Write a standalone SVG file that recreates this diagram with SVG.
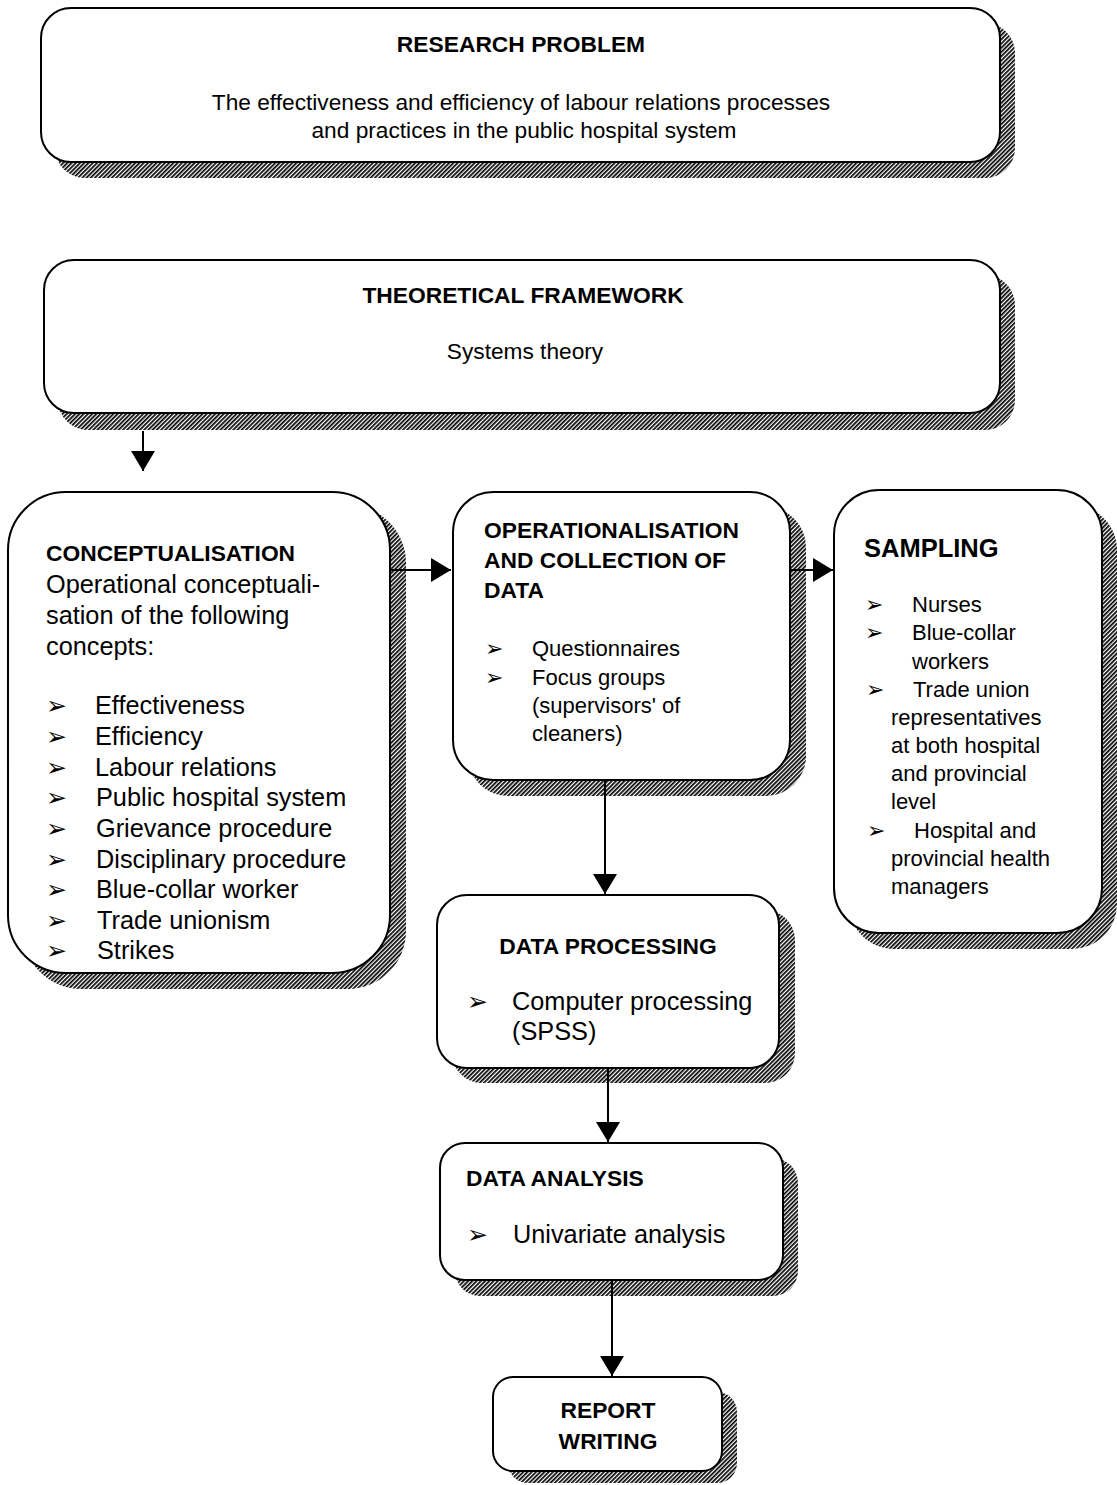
<svg xmlns="http://www.w3.org/2000/svg" width="1117" height="1485" viewBox="0 0 1117 1485">
<defs>
<pattern id="hatch" width="3" height="3" patternUnits="userSpaceOnUse" patternTransform="rotate(45)">
<rect width="3" height="3" fill="#fff"/>
<rect width="1.7" height="3" fill="#000"/>
</pattern>
<marker id="arrBig" viewBox="0 0 20 24" refX="20" refY="12" markerWidth="20" markerHeight="24" orient="auto" markerUnits="userSpaceOnUse">
<path d="M0,0 L20,12 L0,24 Z" fill="#000"/>
</marker>
</defs>
<style>
.shadow{fill:url(#hatch);stroke:none}
.box{fill:#fff;stroke:#000;stroke-width:2}
text{font-family:"Liberation Sans",Arial,sans-serif;fill:#000}
.t{font-size:22.8px;font-weight:bold}
.b21{font-size:22.7px}
.b22{font-size:22px}
.b25{font-size:25.3px}
.bul{font-family:"DejaVu Sans",sans-serif;font-size:25px}
.conn{stroke:#000;stroke-width:2;fill:none}
</style>

<g id="research-problem">
<rect class="shadow" x="55" y="23" width="960" height="155" rx="30"/>
<rect class="box" x="41" y="8" width="959" height="154" rx="30"/>
<text class="t" x="521" y="52" text-anchor="middle">RESEARCH PROBLEM</text>
<text class="b21" x="521" y="110" text-anchor="middle">The effectiveness and efficiency of labour relations processes</text>
<text class="b21" x="524" y="138" text-anchor="middle">and practices in the public hospital system</text>
</g>

<g id="theoretical-framework">
<rect class="shadow" x="58" y="275" width="957" height="155" rx="30"/>
<rect class="box" x="44" y="260" width="956" height="153" rx="30"/>
<text class="t" x="523" y="303" text-anchor="middle">THEORETICAL FRAMEWORK</text>
<text class="b21" x="525" y="359" text-anchor="middle">Systems theory</text>
</g>

<g id="conceptualisation">
<rect class="shadow" x="23" y="505" width="383" height="484" rx="58"/>
<rect class="box" x="8" y="492" width="382" height="481" rx="58"/>
<text class="t" x="46" y="561">CONCEPTUALISATION</text>
<text class="b25" x="46" y="593">Operational conceptuali-</text>
<text class="b25" x="46" y="624">sation of the following</text>
<text class="b25" x="46" y="655">concepts:</text>
<g class="bul">
<text x="46" y="714">➢</text><text x="46" y="745">➢</text><text x="46" y="776">➢</text>
<text x="46" y="806">➢</text><text x="46" y="837">➢</text><text x="46" y="868">➢</text>
<text x="46" y="898">➢</text><text x="46" y="929">➢</text><text x="46" y="959">➢</text>
</g>
<text class="b25" x="95" y="714">Effectiveness</text>
<text class="b25" x="95" y="745">Efficiency</text>
<text class="b25" x="95" y="776">Labour relations</text>
<text class="b25" x="96" y="806">Public hospital system</text>
<text class="b25" x="96" y="837">Grievance procedure</text>
<text class="b25" x="96" y="868">Disciplinary procedure</text>
<text class="b25" x="96" y="898">Blue-collar worker</text>
<text class="b25" x="97" y="929">Trade unionism</text>
<text class="b25" x="97" y="959">Strikes</text>
</g>

<g id="operationalisation">
<rect class="shadow" x="468" y="507" width="338" height="289" rx="40"/>
<rect class="box" x="453" y="492" width="337" height="288" rx="40"/>
<text class="t" x="484" y="538">OPERATIONALISATION</text>
<text class="t" x="484" y="568">AND COLLECTION OF</text>
<text class="t" x="484" y="598">DATA</text>
<text class="bul" x="485" y="656" style="font-size:22px">➢</text>
<text class="bul" x="485" y="685" style="font-size:22px">➢</text>
<text class="b22" x="532" y="656">Questionnaires</text>
<text class="b22" x="532" y="685">Focus groups</text>
<text class="b22" x="532" y="713">(supervisors' of</text>
<text class="b22" x="532" y="741">cleaners)</text>
</g>

<g id="sampling">
<rect class="shadow" x="849" y="505" width="268" height="444" rx="45"/>
<rect class="box" x="834" y="490" width="268" height="443" rx="45"/>
<text x="864" y="557" style="font-size:25.5px;font-weight:bold">SAMPLING</text>
<g class="bul" style="font-size:22px">
<text x="865" y="612">➢</text><text x="865" y="640">➢</text><text x="866" y="697">➢</text><text x="867" y="838">➢</text>
</g>
<text class="b22" x="912" y="612">Nurses</text>
<text class="b22" x="912" y="640">Blue-collar</text>
<text class="b22" x="912" y="669">workers</text>
<text class="b22" x="913" y="697">Trade union</text>
<text class="b22" x="891" y="725">representatives</text>
<text class="b22" x="891" y="753">at both hospital</text>
<text class="b22" x="891" y="781">and provincial</text>
<text class="b22" x="891" y="809">level</text>
<text class="b22" x="914" y="838">Hospital and</text>
<text class="b22" x="891" y="866">provincial health</text>
<text class="b22" x="891" y="894">managers</text>
</g>

<g id="data-processing">
<rect class="shadow" x="452" y="910" width="343" height="173" rx="30"/>
<rect class="box" x="437" y="895" width="342" height="173" rx="30"/>
<text class="t" x="608" y="954" text-anchor="middle">DATA PROCESSING</text>
<text class="bul" x="467" y="1010">➢</text>
<text class="b25" x="512" y="1010">Computer processing</text>
<text class="b25" x="512" y="1040">(SPSS)</text>
</g>

<g id="data-analysis">
<rect class="shadow" x="455" y="1158" width="343" height="138" rx="25"/>
<rect class="box" x="440" y="1143" width="343" height="137" rx="25"/>
<text class="t" x="466" y="1186">DATA ANALYSIS</text>
<text class="bul" x="467" y="1243">➢</text>
<text class="b25" x="513" y="1243">Univariate analysis</text>
</g>

<g id="report-writing">
<rect class="shadow" x="508" y="1392" width="229" height="91" rx="20"/>
<rect class="box" x="493" y="1377" width="229" height="94" rx="20"/>
<text class="t" x="608" y="1418" text-anchor="middle">REPORT</text>
<text class="t" x="608" y="1449" text-anchor="middle">WRITING</text>
</g>

<g id="connectors">
<line class="conn" x1="143" y1="431" x2="143" y2="471" marker-end="url(#arrBig)"/>
<line class="conn" x1="390" y1="570" x2="451" y2="570" marker-end="url(#arrBig)"/>
<line class="conn" x1="790" y1="570" x2="833" y2="570" marker-end="url(#arrBig)"/>
<line class="conn" x1="605" y1="780" x2="605" y2="894" marker-end="url(#arrBig)"/>
<line class="conn" x1="608" y1="1068" x2="608" y2="1142" marker-end="url(#arrBig)"/>
<line class="conn" x1="612" y1="1280" x2="612" y2="1376" marker-end="url(#arrBig)"/>
</g>
</svg>
